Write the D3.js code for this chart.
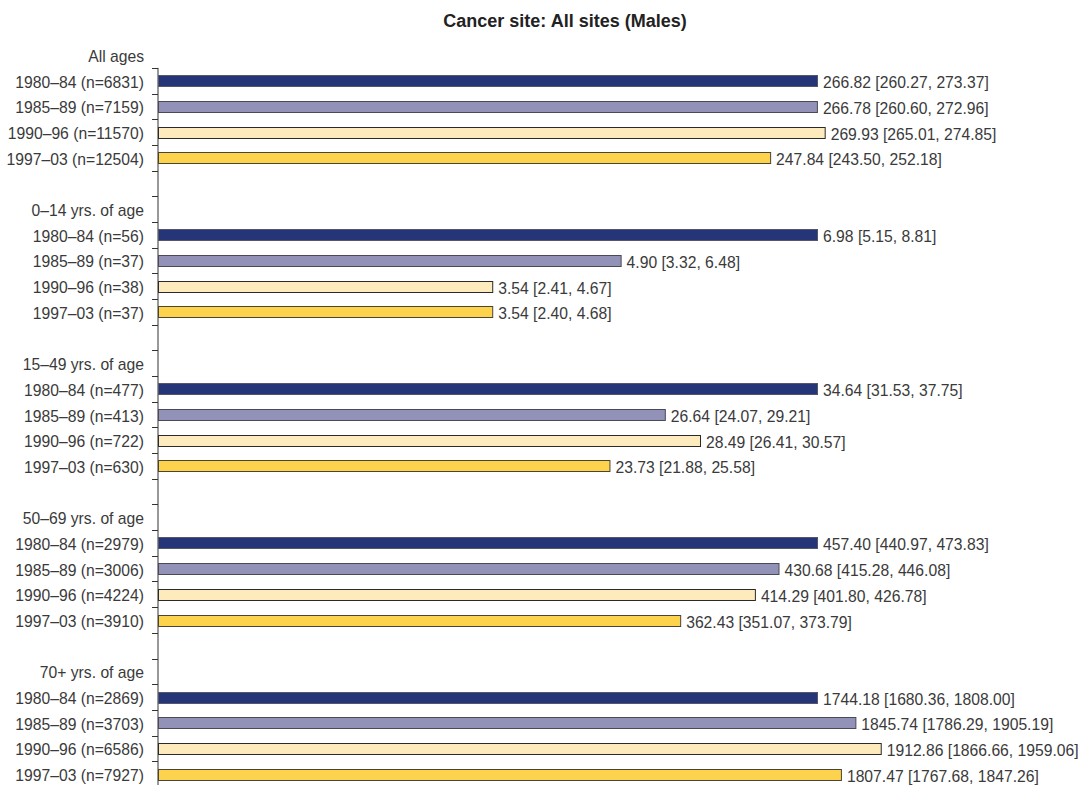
<!DOCTYPE html>
<html>
<head>
<meta charset="utf-8">
<script src="https://cdn.jsdelivr.net/npm/d3@7"></script>
<style>
  html, body { margin: 0; padding: 0; background: #fff; }
  svg { display: block; }
  text { font-family: "Liberation Sans", Arial, sans-serif; }
</style>
</head>
<body>
<svg id="chart" width="1084" height="785"></svg>
<script>
// Age groups, periods and incidence rates with 95% confidence limits
const groups = ["All ages", "0–14 yrs. of age", "15–49 yrs. of age", "50–69 yrs. of age", "70+ yrs. of age"];
const periods = ["1980–84", "1985–89", "1990–96", "1997–03"];
const caseCounts = [
  [6831, 7159, 11570, 12504],
  [56, 37, 38, 37],
  [477, 413, 722, 630],
  [2979, 3006, 4224, 3910],
  [2869, 3703, 6586, 7927]
];
const rates = [
  [266.82, 266.78, 269.93, 247.84],
  [6.98, 4.90, 3.54, 3.54],
  [34.64, 26.64, 28.49, 23.73],
  [457.40, 430.68, 414.29, 362.43],
  [1744.18, 1845.74, 1912.86, 1807.47]
];
const lowerCI = [
  [260.27, 260.60, 265.01, 243.50],
  [5.15, 3.32, 2.41, 2.40],
  [31.53, 24.07, 26.41, 21.88],
  [440.97, 415.28, 401.80, 351.07],
  [1680.36, 1786.29, 1866.66, 1767.68]
];
const upperCI = [
  [273.37, 272.96, 274.85, 252.18],
  [8.81, 6.48, 4.67, 4.68],
  [37.75, 29.21, 30.57, 25.58],
  [473.83, 446.08, 426.78, 373.79],
  [1808.00, 1905.19, 1959.06, 1847.26]
];
const periodColors = ["#263478", "#9291b8", "#fdebbe", "#fdd34d"];
const periodStrokes = ["#55566a", "#4a4a55", "#2a2a2a", "#4a4436"];

(function draw() {
  const svg = d3.select("#chart");
  const fmt = d3.format(".2f");

  // Row layout: each group = header row, four period rows, spacer row
  const rows = [];
  groups.forEach((g, gi) => {
    rows.push({ key: "h" + gi, type: "header", group: gi });
    periods.forEach((p, pi) => rows.push({ key: "b" + gi + "_" + pi, type: "bar", group: gi, period: pi }));
    rows.push({ key: "s" + gi, type: "spacer", group: gi });
  });

  const rowH = 25.68;
  const yStart = 42.2;
  const y = d3.scaleBand()
    .domain(rows.map(r => r.key))
    .range([yStart, yStart + rows.length * rowH]);

  const x0 = 158, x1 = 817;
  // Each group is scaled so its first period spans the same length
  const xScales = groups.map((g, gi) => d3.scaleLinear().domain([0, rates[gi][0]]).range([x0, x1]));

  // Title
  svg.append("text")
    .attr("x", 565).attr("y", 27)
    .attr("text-anchor", "middle")
    .attr("font-size", 18).attr("font-weight", "bold").attr("fill", "#222")
    .text("Cancer site: All sites (Males)");

  // Vertical axis with ticks at row boundaries (below the first header)
  const axisTop = y(rows[1].key);
  const axisBottom = yStart + rows.length * rowH;
  const ax = svg.append("g");
  ax.append("line")
    .attr("x1", x0).attr("x2", x0)
    .attr("y1", axisTop).attr("y2", axisBottom)
    .attr("stroke", "#333").attr("stroke-width", 1);
  ax.selectAll("line.tick")
    .data(rows.slice(1))
    .join("line")
    .attr("class", "tick")
    .attr("x1", x0 - 6).attr("x2", x0)
    .attr("y1", d => Math.round(y(d.key)) + 0.5)
    .attr("y2", d => Math.round(y(d.key)) + 0.5)
    .attr("stroke", "#333").attr("stroke-width", 1);

  const barRows = rows.filter(r => r.type === "bar");
  const headerRows = rows.filter(r => r.type === "header");
  const mid = r => y(r.key) + y.bandwidth() / 2;

  // Group headers
  svg.selectAll("text.header")
    .data(headerRows)
    .join("text")
    .attr("class", "header")
    .attr("x", 144).attr("y", d => mid(d) + 6.5)
    .attr("text-anchor", "end")
    .attr("font-size", 15.7).attr("fill", "#3a3a3a")
    .text(d => groups[d.group]);

  // Period labels with case counts
  svg.selectAll("text.period")
    .data(barRows)
    .join("text")
    .attr("class", "period")
    .attr("x", 144).attr("y", d => mid(d) + 7)
    .attr("text-anchor", "end")
    .attr("font-size", 15.7).attr("fill", "#3a3a3a")
    .text(d => `${periods[d.period]} (n=${caseCounts[d.group][d.period]})`);

  // Bars
  const barH = 11;
  svg.selectAll("rect.bar")
    .data(barRows)
    .join("rect")
    .attr("class", "bar")
    .attr("x", x0 + 0.5)
    .attr("y", d => Math.round(mid(d) - barH / 2) + 0.5)
    .attr("width", d => xScales[d.group](rates[d.group][d.period]) - x0)
    .attr("height", barH)
    .attr("fill", d => periodColors[d.period])
    .attr("stroke", d => periodStrokes[d.period])
    .attr("stroke-width", 1);

  // Value labels with confidence interval
  svg.selectAll("text.value")
    .data(barRows)
    .join("text")
    .attr("class", "value")
    .attr("x", d => xScales[d.group](rates[d.group][d.period]) + 6)
    .attr("y", d => mid(d) + 7.5)
    .attr("font-size", 15.7).attr("fill", "#3a3a3a")
    .text(d => `${fmt(rates[d.group][d.period])} [${fmt(lowerCI[d.group][d.period])}, ${fmt(upperCI[d.group][d.period])}]`);
})();
</script>
</body>
</html>
